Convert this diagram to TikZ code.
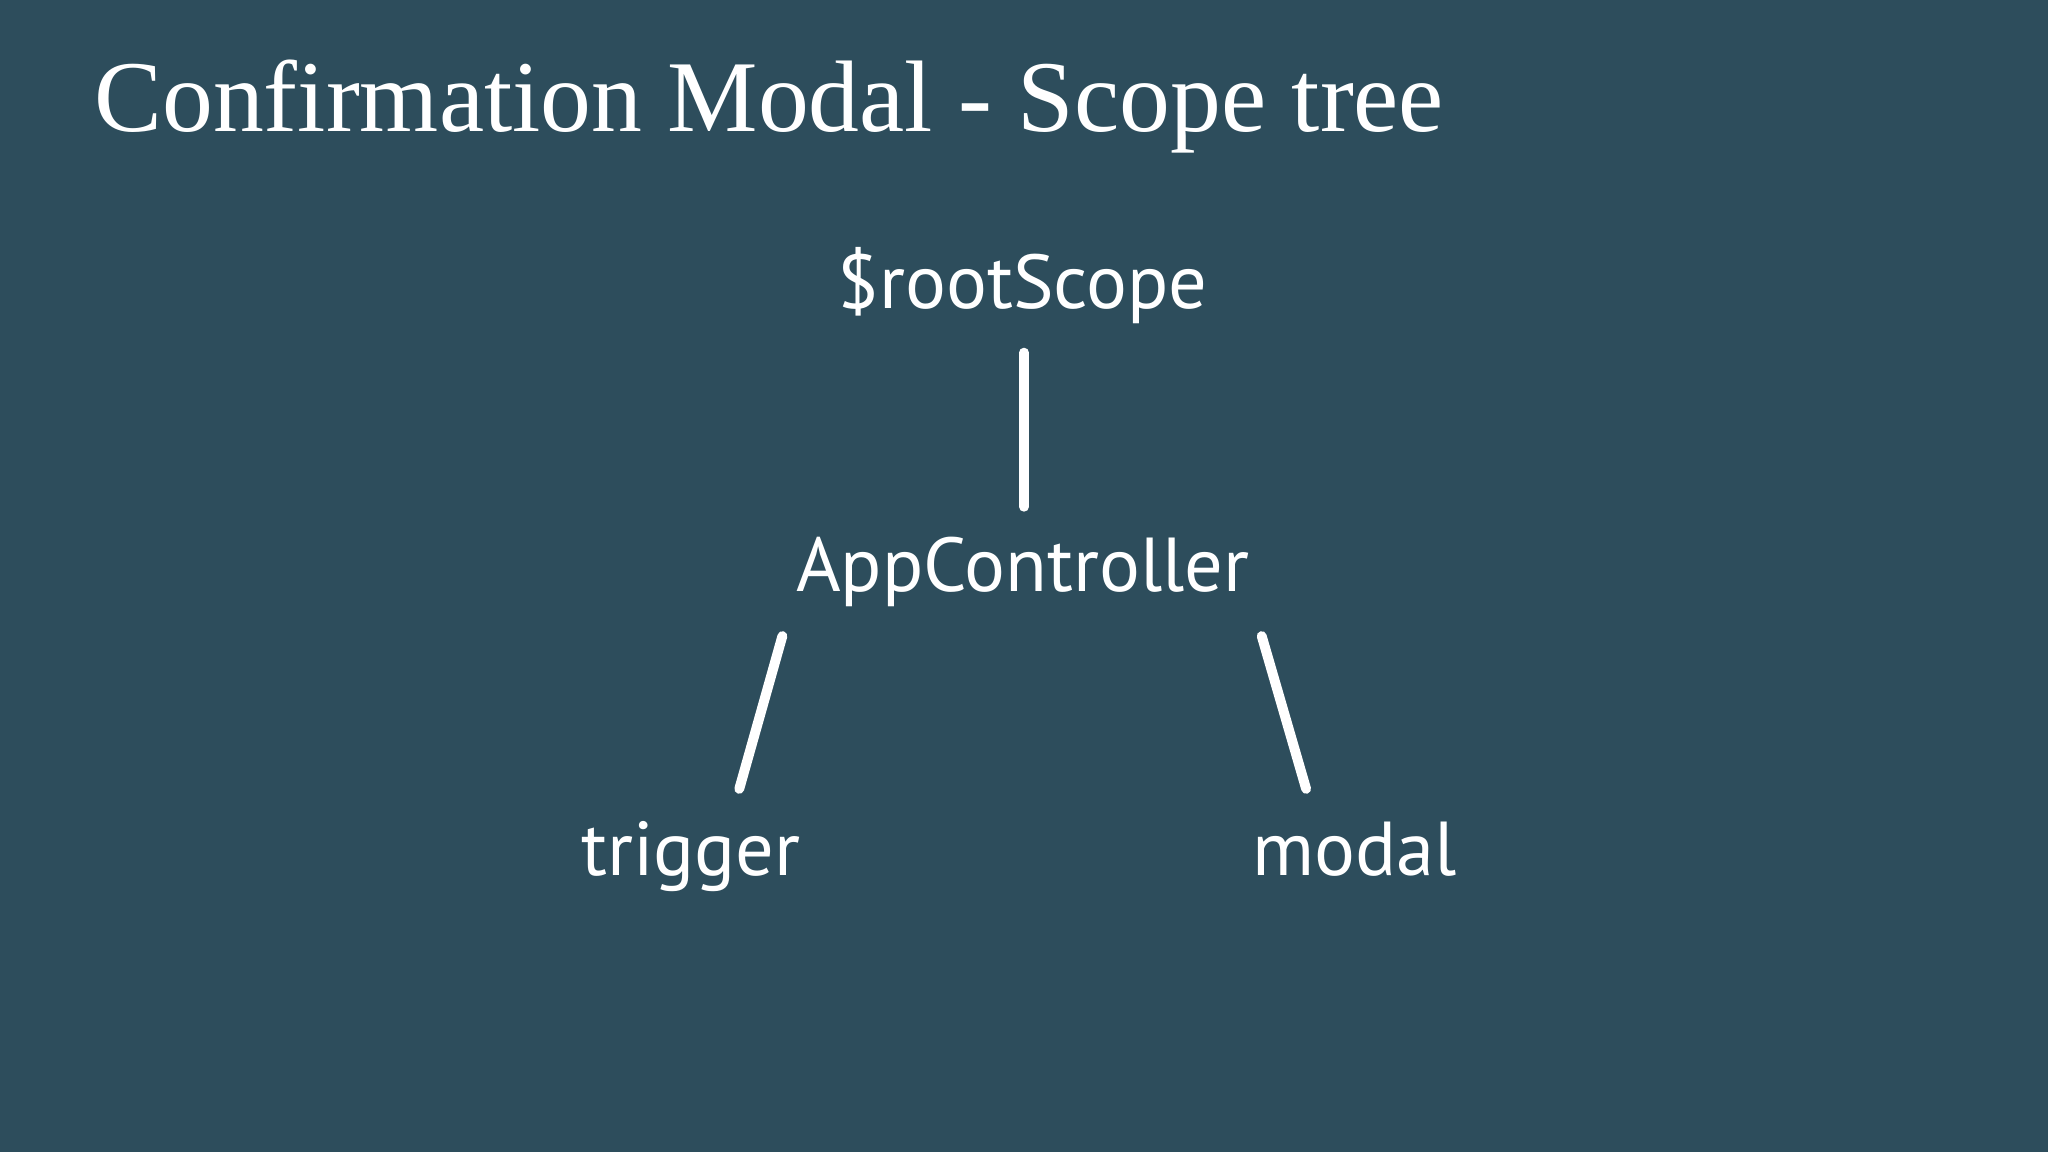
\documentclass[tikz,border=0pt]{standalone}
\usepackage{fontspec}
\setmainfont{Liberation Serif}
\newfontfamily\labelfont{PT Sans}
\definecolor{slate}{RGB}{45,77,92}
\begin{document}
\begin{tikzpicture}[x=0.02cm, y=0.02cm,
  scopename/.style={text=white, inner sep=0, font=\labelfont\fontsize{33.3}{40}\selectfont},
  branch/.style={white, line width=4.3pt, line cap=round}]
\fill [color=slate] (0,0) rectangle (1568,882);
\useasboundingbox (0,0) rectangle (1568,882);
\node [anchor=base west, text=white, inner sep=0, font=\fontsize{44.3}{52}\selectfont] (title) at (72,781) {Confirmation Modal - Scope tree};
\node [scopename, anchor=base] (root) at (783,646) {\$rootScope};
\node [scopename, anchor=base] (app) at (783,429) {AppController};
\node [scopename, anchor=base] (trig) at (529,212) {trigger};
\node [scopename, anchor=base] (modal) at (1037,212) {modal};
\draw [branch] ([shift={(1,-34)}]root.base) -- ([shift={(1,65)}]app.base);
\draw [branch] ([shift={(-184,-34)}]app.base) -- ([shift={(37,66)}]trig.base);
\draw [branch] ([shift={(183,-34)}]app.base) -- ([shift={(-37,66)}]modal.base);
\end{tikzpicture}
\end{document}
